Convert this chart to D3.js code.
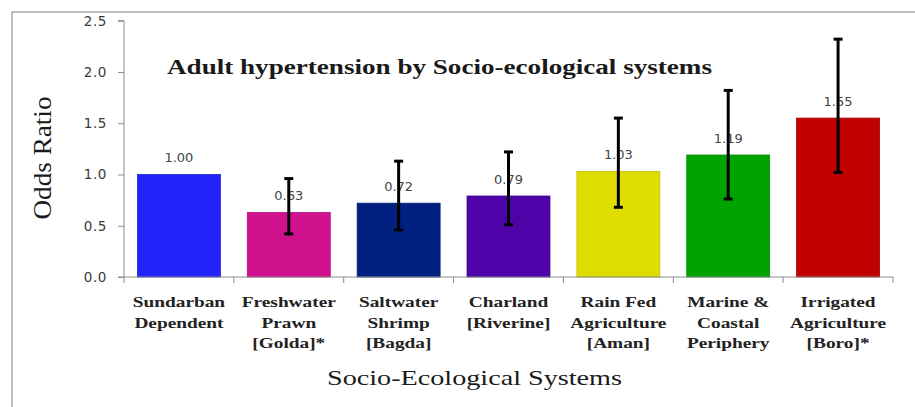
<!DOCTYPE html>
<html>
<head>
<meta charset="utf-8">
<script src="https://cdn.jsdelivr.net/npm/d3@7"></script>
<style>
  html, body { margin: 0; padding: 0; background: #fff; }
  svg { display: block; }
</style>
</head>
<body>
<svg id="chart" width="915" height="407"></svg>
<script>
// ---- data ----
const categories = [
  "Sundarban\nDependent",
  "Freshwater\nPrawn\n[Golda]*",
  "Saltwater\nShrimp\n[Bagda]",
  "Charland\n[Riverine]",
  "Rain Fed\nAgriculture\n[Aman]",
  "Marine &\nCoastal\nPeriphery",
  "Irrigated\nAgriculture\n[Boro]*"
];
const oddsRatios = [1.00, 0.63, 0.72, 0.79, 1.03, 1.19, 1.55];
const ciLower    = [null, 0.42, 0.46, 0.51, 0.68, 0.76, 1.02];
const ciUpper    = [null, 0.96, 1.13, 1.22, 1.55, 1.82, 2.32];
const barColors  = ["#2323fb", "#d0118e", "#02207f", "#4d03a8", "#dfdc00", "#00a300", "#c10000"];
const yTicks     = [0, 0.5, 1.0, 1.5, 2.0, 2.5];
const titleText  = "Adult hypertension by Socio-ecological systems";
const yTitle     = "Odds Ratio";
const xTitle     = "Socio-Ecological Systems";

// ---- layout ----
const svg = d3.select("#chart");
const plot = { left: 124, right: 893, top: 20.7, bottom: 277 };

const x = d3.scaleBand()
  .domain(d3.range(categories.length))
  .range([plot.left, plot.right])
  .paddingInner(0.245)
  .paddingOuter(0.1225);

const y = d3.scaleLinear().domain([0, 2.5]).range([plot.bottom, plot.top]);

// outer frame (top and left edges visible)
svg.append("path")
  .attr("d", "M12,407 L12,12 L915,12")
  .attr("fill", "none")
  .attr("stroke", "#a8a8a8")
  .attr("stroke-width", 1.5);

// bars
svg.append("g").selectAll("rect")
  .data(oddsRatios)
  .join("rect")
  .attr("x", (d, i) => x(i))
  .attr("y", d => y(d))
  .attr("width", x.bandwidth())
  .attr("height", d => y(0) - y(d))
  .attr("fill", (d, i) => barColors[i])
  .attr("stroke", (d, i) => d3.color(barColors[i]).darker(0.4))
  .attr("stroke-width", 0.8);

// value labels
svg.append("g").selectAll("text")
  .data(oddsRatios)
  .join("text")
  .attr("x", (d, i) => x(i) + x.bandwidth() / 2)
  .attr("y", d => y(d) - 12)
  .attr("text-anchor", "middle")
  .attr("font-family", "DejaVu Sans, sans-serif")
  .attr("font-size", 13)
  .attr("fill", "#444")
  .text(d => d.toFixed(2));

// error bars
const eb = svg.append("g").attr("stroke", "#000");
oddsRatios.forEach((d, i) => {
  if (ciLower[i] == null) return;
  const cx = x(i) + x.bandwidth() / 2;
  const g = eb.append("g");
  g.append("line").attr("x1", cx).attr("x2", cx)
    .attr("y1", y(ciLower[i])).attr("y2", y(ciUpper[i]))
    .attr("stroke-width", 3);
  [ciLower[i], ciUpper[i]].forEach(v => {
    g.append("line").attr("x1", cx - 4.5).attr("x2", cx + 4.5)
      .attr("y1", y(v)).attr("y2", y(v))
      .attr("stroke-width", 3);
  });
});

// y axis
const yAxis = d3.axisLeft(y).tickValues(yTicks).tickFormat(d3.format(".1f")).tickSize(6).tickPadding(11);
const yg = svg.append("g").attr("transform", `translate(${plot.left},0)`).call(yAxis);
yg.select(".domain").attr("stroke", "#8c8c8c").attr("d", `M-6,${plot.top}H0V${plot.bottom}H-6`);
yg.selectAll(".tick line").attr("stroke", "#8c8c8c");
yg.selectAll(".tick text")
  .attr("font-family", "DejaVu Sans, sans-serif")
  .attr("font-size", 13.5)
  .attr("letter-spacing", 0.6)
  .attr("fill", "#3a3a3a");

// x axis line with boundary ticks
const boundaries = d3.range(categories.length + 1).map(i => plot.left + i * x.step());
const xg = svg.append("g").attr("stroke", "#8c8c8c");
xg.append("line").attr("x1", plot.left).attr("x2", plot.right)
  .attr("y1", plot.bottom).attr("y2", plot.bottom);
xg.selectAll(".bt").data(boundaries).join("line")
  .attr("x1", d => d).attr("x2", d => d)
  .attr("y1", plot.bottom).attr("y2", plot.bottom + 6);

// category labels (horizontally stretched serif, as in the original)
const catG = svg.append("g");
categories.forEach((c, i) => {
  const cx = x(i) + x.bandwidth() / 2;
  c.split("\n").forEach((line, j) => {
    catG.append("text")
      .attr("transform", `translate(${cx},${307 + j * 20.5}) scale(1.38,1)`)
      .attr("text-anchor", "middle")
      .attr("font-family", "Liberation Serif, serif")
      .attr("font-weight", "bold")
      .attr("font-size", 14)
      .attr("fill", "#222")
      .text(line);
  });
});

// chart title
svg.append("text")
  .attr("x", 167).attr("y", 74)
  .attr("font-family", "Liberation Serif, serif")
  .attr("font-weight", "bold")
  .attr("font-size", 21.5)
  .attr("fill", "#1a1a1a")
  .attr("textLength", 545)
  .attr("lengthAdjust", "spacingAndGlyphs")
  .text(titleText);

// y axis title
svg.append("text")
  .attr("transform", "translate(51,158) rotate(-90)")
  .attr("text-anchor", "middle")
  .attr("font-family", "Liberation Serif, serif")
  .attr("font-size", 25)
  .attr("fill", "#1a1a1a")
  .attr("textLength", 123)
  .attr("lengthAdjust", "spacingAndGlyphs")
  .text(yTitle);

// x axis title
svg.append("text")
  .attr("x", 474.5).attr("y", 385)
  .attr("text-anchor", "middle")
  .attr("font-family", "Liberation Serif, serif")
  .attr("font-size", 21)
  .attr("fill", "#1a1a1a")
  .attr("textLength", 295)
  .attr("lengthAdjust", "spacingAndGlyphs")
  .text(xTitle);
</script>
</body>
</html>
